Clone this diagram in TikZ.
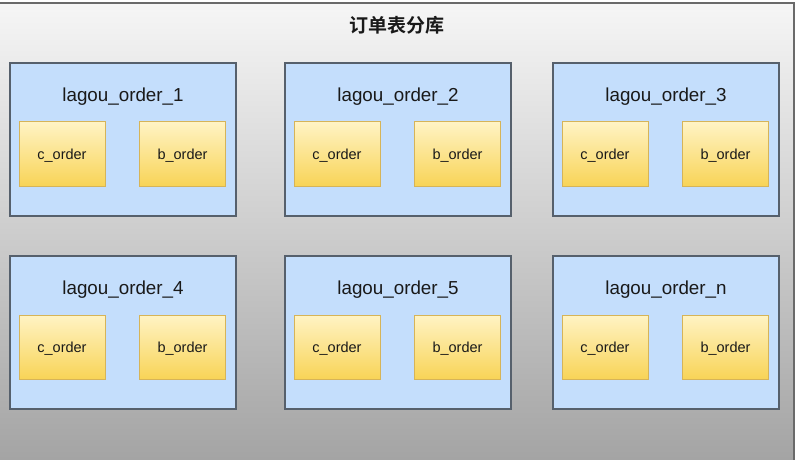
\documentclass[tikz,border=0pt]{standalone}
\usepackage{fontspec}
\setmainfont{Liberation Sans}
\newfontfamily\cjk{Noto Sans CJK SC}[BoldFont={* Bold}]
\definecolor{bluefill}{HTML}{C4DEFC}
\definecolor{bluedraw}{HTML}{56606C}
\definecolor{ytop}{HTML}{FFF3C4}
\definecolor{ybot}{HTML}{F8D457}
\definecolor{ydraw}{HTML}{D6B458}
\definecolor{gtop}{HTML}{F6F6F6}
\definecolor{gbot}{HTML}{A3A3A3}
\definecolor{gdraw}{HTML}{6A6A6A}
\begin{document}
\begin{tikzpicture}[x=1pt,y=-1pt,
  outerbox/.style={draw=gdraw,line width=1.2pt,top color=gtop,bottom color=gbot,inner sep=0pt,outer sep=0pt,anchor=north west,minimum width=796pt,minimum height=462pt},
  bluebox/.style={draw=bluedraw,line width=1.1pt,fill=bluefill,inner sep=0pt,outer sep=0pt,anchor=north west,minimum width=226pt,minimum height=153pt},
  tblbox/.style={draw=ydraw,line width=1pt,top color=ytop,bottom color=ybot,inner sep=0pt,outer sep=0pt,minimum width=86pt,minimum height=64pt,font=\fontsize{14.5}{16}\selectfont,text=black!90},
  tbltext/.style={font=\fontsize{14.5}{16}\selectfont,text=black!90,inner sep=0pt},
  dbtitle/.style={font=\fontsize{18.8}{21}\selectfont,text=black!90,inner sep=0pt},
  maintitle/.style={font=\cjk\bfseries\fontsize{19}{22}\selectfont,text=black!90,inner sep=0pt}
]
\useasboundingbox (0,0) rectangle (796,460);
\node[outerbox] (outer) at (-2,3) {};
\node[maintitle] (t) at (397,25) {订单表分库};
\foreach \i/\x/\y/\n in {1/10/63/1,2/285/63/2,3/553/63/3,4/10/256/4,5/285/256/5,6/553/256/n}{
  \node[bluebox] (b\i) at (\x,\y) {};
  \node[dbtitle] (ti\i) at ([xshift=113pt,yshift=-34pt]b\i.north west) {lagou\_order\_\n};
  \node[tblbox] (c\i) at ([xshift=52pt,yshift=-91pt]b\i.north west) {};
  \node[tbltext] (ct\i) at ([yshift=-2pt]c\i.center) {c\_order};
  \node[tblbox] (d\i) at ([xshift=172.5pt,yshift=-91pt]b\i.north west) {};
  \node[tbltext] (dt\i) at ([yshift=-2pt]d\i.center) {b\_order};
}
\end{tikzpicture}
\end{document}
